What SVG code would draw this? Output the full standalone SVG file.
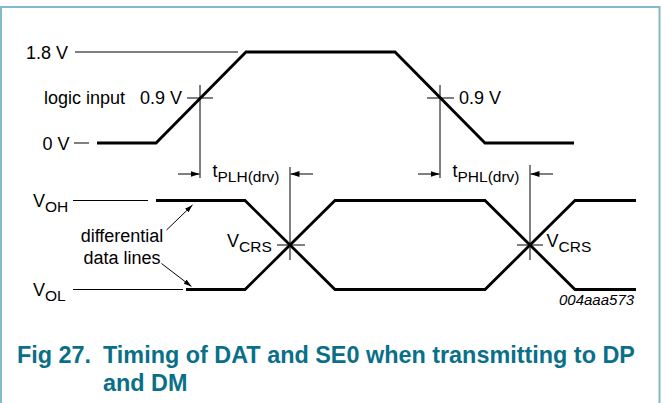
<svg xmlns="http://www.w3.org/2000/svg" width="662" height="403" viewBox="0 0 662 403">
<style>
.lbl{font-family:"Liberation Sans",Arial,sans-serif;font-size:18px;fill:#000}
.sub{font-size:15.5px}
.code{font-family:"Liberation Sans",Arial,sans-serif;font-size:15px;font-style:italic;fill:#000}
.cap{font-family:"Liberation Sans",Arial,sans-serif;font-size:23.4px;font-weight:bold;fill:#0a6f88}
.thin{fill:none;stroke:#000;stroke-width:1}
.wave{fill:none;stroke:#000;stroke-width:2.8;stroke-linejoin:miter}
.frame{fill:none;stroke:#86b9ca;stroke-width:2}
</style>
<defs>
<marker id="ah" markerWidth="9" markerHeight="6" refX="9" refY="3" orient="auto" markerUnits="userSpaceOnUse">
<path d="M0,0 L9,3 L0,6 z" fill="#000"/>
</marker>
<marker id="ahs" markerWidth="8" markerHeight="5" refX="8" refY="2.5" orient="auto" markerUnits="userSpaceOnUse">
<path d="M0,0 L8,2.5 L0,5 z" fill="#000"/>
</marker>
</defs>
<rect width="662" height="403" fill="#fff"/>
<path class="frame" d="M1,404 V7 H659.5 V404"/>

<g id="input-levels">
<text class="lbl" x="26" y="58.5">1.8 V</text>
<line class="thin" x1="75" y1="52" x2="238" y2="52"/>
<text class="lbl" x="44" y="104">logic input</text>
<text class="lbl" x="140" y="104">0.9 V</text>
<line class="thin" x1="187" y1="98" x2="213" y2="98"/>
<text class="lbl" x="42.5" y="150">0 V</text>
<line class="thin" x1="74" y1="143" x2="89" y2="143"/>
</g>

<g id="input-wave">
<path class="wave" d="M97,143 H156 L246,52 H395 L485,143 H574"/>
<line class="thin" x1="427" y1="98" x2="454" y2="98"/>
<text class="lbl" x="459" y="104">0.9 V</text>
</g>

<g id="output-levels">
<text class="lbl" x="33" y="206.5">V<tspan class="sub" dy="5">OH</tspan></text>
<line class="thin" x1="73" y1="200.5" x2="148" y2="200.5"/>
<text class="lbl" x="33" y="296">V<tspan class="sub" dy="5">OL</tspan></text>
<line class="thin" x1="73" y1="289.5" x2="183" y2="289.5"/>
<text class="lbl" x="122" y="242" text-anchor="middle">differential</text>
<text class="lbl" x="122" y="263.5" text-anchor="middle">data lines</text>
</g>

<g id="output-wave">
<path class="wave" d="M156,200.5 H245 L335,289.5 H485 L575,200.5 H636"/>
<path class="wave" d="M186,289.5 H245 L335,200.5 H485 L575,289.5 H636"/>
<line class="thin" x1="277" y1="245" x2="305" y2="245"/>
<text class="lbl" x="227" y="247">V<tspan class="sub" dy="4.5">CRS</tspan></text>
<line class="thin" x1="517" y1="245" x2="543" y2="245"/>
<text class="lbl" x="546.5" y="247">V<tspan class="sub" dy="4.5">CRS</tspan></text>
<text class="code" x="559" y="305">004aaa573</text>
</g>

<g id="timing-labels">
<text class="lbl" x="212.5" y="177">t<tspan class="sub" dy="4.5">PLH(drv)</tspan></text>
<text class="lbl" x="452.5" y="177">t<tspan class="sub" dy="4.5">PHL(drv)</tspan></text>
</g>

<g id="connectors">
<line class="thin" x1="200" y1="85" x2="200" y2="178"/>
<line class="thin" x1="440" y1="85" x2="440" y2="178"/>
<line class="thin" x1="290" y1="167" x2="290" y2="260"/>
<line class="thin" x1="530" y1="165" x2="530" y2="260"/>
<line class="thin" x1="178" y1="174" x2="199.5" y2="174" marker-end="url(#ah)"/>
<line class="thin" x1="313" y1="174" x2="290.5" y2="174" marker-end="url(#ah)"/>
<line class="thin" x1="418" y1="174" x2="439.5" y2="174" marker-end="url(#ah)"/>
<line class="thin" x1="553" y1="174" x2="530.5" y2="174" marker-end="url(#ah)"/>
<line class="thin" x1="166.5" y1="230" x2="192.5" y2="205" marker-end="url(#ahs)"/>
<line class="thin" x1="161.5" y1="263.5" x2="191.5" y2="286.5" marker-end="url(#ahs)"/>
</g>

<g id="caption">
<text class="cap" x="17" y="363">Fig 27.</text>
<text class="cap" x="103" y="363">Timing of DAT and SE0 when transmitting to DP</text>
<text class="cap" x="103" y="391">and DM</text>
</g>
</svg>
